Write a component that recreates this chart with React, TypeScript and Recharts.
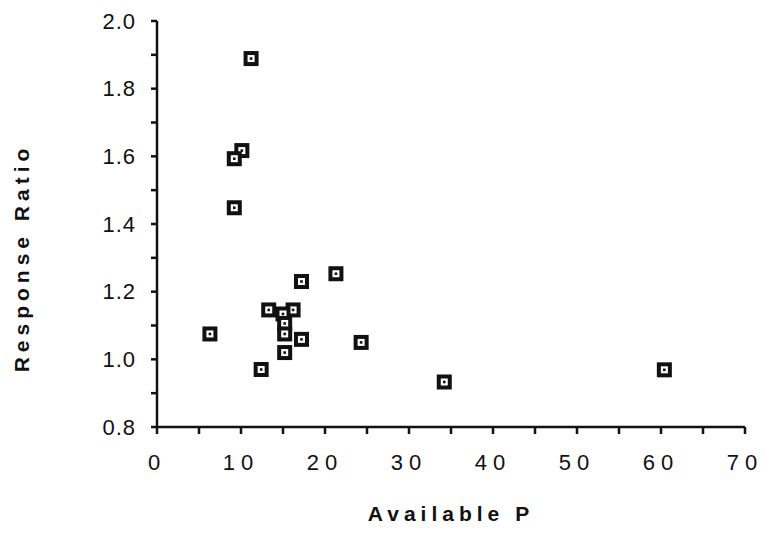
import React from "react"
import { ScatterChart, Scatter, XAxis, YAxis, Label } from "recharts"

// values
const availableP = [11.2, 10.1, 9.2, 9.2, 6.3, 12.4, 13.3, 16.2, 15.0, 15.2, 15.2, 15.2, 17.2, 17.2, 21.3, 24.3, 34.2, 60.4]
const responseRatio = [1.889, 1.617, 1.593, 1.448, 1.075, 0.97, 1.146, 1.146, 1.134, 1.106, 1.075, 1.02, 1.23, 1.059, 1.253, 1.05, 0.933, 0.969]

const xTicks = [0, 5, 10, 15, 20, 25, 30, 35, 40, 45, 50, 55, 60, 65, 70]
const yTicks = [0.8, 0.9, 1.0, 1.1, 1.2, 1.3, 1.4, 1.5, 1.6, 1.7, 1.8, 1.9, 2.0]

const points = availableP.map((p, i) => ({ p, r: responseRatio[i] }))

const ink = "#111"
const font = "'Liberation Sans', Arial, sans-serif"

// boxed square marker like the old plotting symbol
const BoxMarker = (props: any) => {
  const { cx, cy } = props
  if (cx == null || cy == null) return null
  return (
    <g>
      <rect x={cx - 7.5} y={cy - 7.5} width={15} height={15} fill={ink} />
      <rect x={cx - 3.5} y={cy - 3.5} width={7} height={7} fill="#fff" />
      <rect x={cx - 1.3} y={cy - 1.3} width={2.6} height={2.6} fill={ink} />
    </g>
  )
}

export default function App() {
  return (
    <div style={{ position: "absolute", left: 0, top: 0, background: "#fff" }}>
      <ScatterChart width={765} height={550} margin={{ top: 21, right: 20, bottom: 93, left: 97 }}>
        <XAxis
          type="number"
          dataKey="p"
          domain={[0, 70]}
          ticks={xTicks}
          tickFormatter={(v: number) => (v % 10 === 0 ? String(v) : "")}
          height={30}
          stroke={ink}
          strokeWidth={2.5}
          tickSize={7}
          tickMargin={20}
          tick={{ fill: ink, fontSize: 22, fontFamily: font, letterSpacing: 6 }}
          allowDataOverflow
        >
          <Label
            content={() => (
              <text x={451} y={521} textAnchor="middle" fill={ink} fontSize={21} fontWeight="bold" fontFamily={font} letterSpacing={5}>
                Available  P
              </text>
            )}
          />
        </XAxis>
        <YAxis
          type="number"
          dataKey="r"
          domain={[0.8, 2.0]}
          ticks={yTicks}
          tickFormatter={(v: number) => (Math.round(v * 10) % 2 === 0 ? v.toFixed(1) : "")}
          width={60}
          stroke={ink}
          strokeWidth={2.5}
          tickSize={6}
          tickMargin={15}
          tick={{ fill: ink, fontSize: 22, fontFamily: font, letterSpacing: 1 }}
          allowDataOverflow
        >
          <Label
            content={() => (
              <text x={29} y={258} transform="rotate(-90 29 258)" textAnchor="middle" fill={ink} fontSize={21} fontWeight="bold" fontFamily={font} letterSpacing={5}>
                Response  Ratio
              </text>
            )}
          />
        </YAxis>
        <Scatter data={points} shape={BoxMarker} isAnimationActive={false} />
      </ScatterChart>
    </div>
  )
}
